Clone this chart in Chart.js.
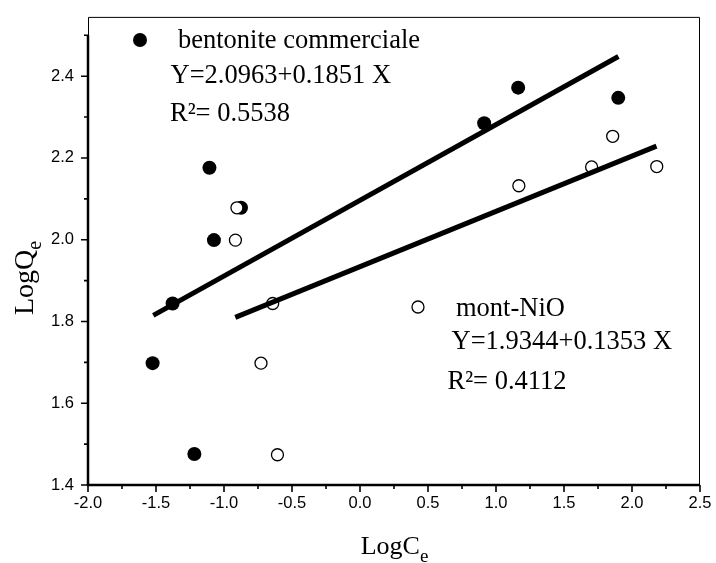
<!DOCTYPE html>
<html>
<head>
<meta charset="utf-8">
<script src="https://cdn.jsdelivr.net/npm/chart.js@4"></script>
<style>
html,body{margin:0;padding:0;background:#fff;}
canvas{display:block;}
</style>
</head>
<body>
<canvas id="c" width="716" height="563"></canvas>
<script>
// ---- data ----
const bentX = [-1.525, -1.378, -1.218, -1.107, -1.074, -0.875, 0.913, 1.163, 1.899];
const bentY = [1.698, 1.844, 1.476, 2.176, 1.999, 2.078, 2.285, 2.372, 2.347];
const nioX  = [-0.916, -0.905, -0.728, -0.642, -0.607, 1.168, 1.703, 1.858, 2.182];
const nioY  = [1.999, 2.078, 1.698, 1.844, 1.474, 2.132, 2.178, 2.253, 2.179];
const bentFitX = [-1.52, 1.90];
const bentFitY = [1.815, 2.448];
const nioFitX = [-0.917, 2.18];
const nioFitY = [1.810, 2.229];
const xTickValues = [-2.0, -1.75, -1.5, -1.25, -1.0, -0.75, -0.5, -0.25, 0.0, 0.25, 0.5, 0.75, 1.0, 1.25, 1.5, 1.75, 2.0, 2.25, 2.5];
const yTickValues = [1.4, 1.5, 1.6, 1.7, 1.8, 1.9, 2.0, 2.1, 2.2, 2.3, 2.4, 2.5];
const bentLabel = 'bentonite commerciale';
const bentEq = 'Y=2.0963+0.1851 X';
const bentR2 = 'R\u00B2= 0.5538';
const nioLabel = 'mont-NiO';
const nioEq = 'Y=1.9344+0.1353 X';
const nioR2 = 'R\u00B2= 0.4112';

const pts = (xs, ys) => xs.map((x, i) => ({x: x, y: ys[i]}));

const isMajorX = v => Math.abs(Math.round(v * 4)) % 2 === 0;
const isMajorY = v => Math.round(v * 10) % 2 === 0;

const decor = {
  id: 'decor',
  afterDraw(chart) {
    const ctx = chart.ctx;
    const a = chart.chartArea;
    const xs = chart.scales.x, ys = chart.scales.y;
    ctx.save();
    ctx.strokeStyle = '#000';
    ctx.fillStyle = '#000';
    // thin frame
    ctx.lineWidth = 1;
    ctx.beginPath();
    ctx.moveTo(a.left + 0.5, a.bottom);
    ctx.lineTo(a.left + 0.5, a.top + 0.5);
    ctx.lineTo(a.right - 0.5, a.top + 0.5);
    ctx.lineTo(a.right - 0.5, a.bottom);
    ctx.stroke();
    // thick axes
    ctx.lineWidth = 2.5;
    ctx.beginPath();
    ctx.moveTo(a.left, ys.getPixelForValue(yTickValues[yTickValues.length - 1]));
    ctx.lineTo(a.left, a.bottom);
    ctx.lineTo(a.right, a.bottom);
    ctx.stroke();
    // ticks
    ctx.lineWidth = 1.6;
    ctx.beginPath();
    yTickValues.forEach(v => {
      const p = ys.getPixelForValue(v);
      const len = isMajorY(v) ? 7 : 4;
      ctx.moveTo(a.left, p); ctx.lineTo(a.left - len, p);
    });
    xTickValues.forEach(v => {
      const p = xs.getPixelForValue(v);
      const len = isMajorX(v) ? 7 : 4;
      ctx.moveTo(p, a.bottom); ctx.lineTo(p, a.bottom + len);
    });
    ctx.stroke();
    // legend markers
    ctx.beginPath(); ctx.arc(140, 40, 7, 0, Math.PI * 2); ctx.fill();
    ctx.beginPath(); ctx.arc(418, 307, 6, 0, Math.PI * 2);
    ctx.fillStyle = '#fff'; ctx.fill(); ctx.lineWidth = 1.3; ctx.stroke();
    ctx.fillStyle = '#000';
    // annotations
    ctx.font = '26.5px "Liberation Serif"';
    ctx.textBaseline = 'alphabetic';
    ctx.textAlign = 'left';
    ctx.fillText(bentLabel, 178, 48);
    ctx.fillText(bentEq, 170.5, 83);
    ctx.fillText(bentR2, 170, 121);
    ctx.fillText(nioLabel, 456, 316);
    ctx.fillText(nioEq, 451.5, 348.5);
    ctx.fillText(nioR2, 447.5, 388.5);
    // x axis title
    ctx.font = '26px "Liberation Serif"';
    const w1 = ctx.measureText('LogC').width;
    ctx.fillText('LogC', 360.7, 554);
    ctx.font = '19px "Liberation Serif"';
    ctx.fillText('e', 360.7 + w1, 562);
    // y axis title
    ctx.translate(33, 315);
    ctx.rotate(-Math.PI / 2);
    ctx.font = '28px "Liberation Serif"';
    const w2 = ctx.measureText('LogQ').width;
    ctx.fillText('LogQ', 0, 0);
    ctx.font = '20px "Liberation Serif"';
    ctx.fillText('e', w2, 8);
    ctx.restore();
  }
};

new Chart(document.getElementById('c'), {
  type: 'scatter',
  data: {
    datasets: [
      {
        type: 'line', label: 'fit bentonite', data: pts(bentFitX, bentFitY),
        borderColor: '#000', borderWidth: 5, pointRadius: 0, fill: false, order: 0
      },
      {
        type: 'line', label: 'fit mont-NiO', data: pts(nioFitX, nioFitY),
        borderColor: '#000', borderWidth: 5, pointRadius: 0, fill: false, order: 0
      },
      {
        label: nioLabel, data: pts(nioX, nioY),
        pointRadius: 6, pointBackgroundColor: '#fff', pointBorderColor: '#000',
        pointBorderWidth: 1.3, order: 1
      },
      {
        label: bentLabel, data: pts(bentX, bentY),
        pointRadius: 7, pointBackgroundColor: '#000', pointBorderColor: '#000',
        pointBorderWidth: 0, order: 2
      }
    ]
  },
  options: {
    responsive: false,
    animation: false,
    layout: { padding: { top: 11, right: 16, left: 0, bottom: 0 } },
    plugins: { legend: { display: false }, tooltip: { enabled: false } },
    scales: {
      x: {
        type: 'linear', min: -2.0, max: 2.5,
        afterFit(s) { s.height = 78; },
        afterBuildTicks(s) { s.ticks = xTickValues.map(v => ({value: v})); },
        border: { display: false },
        grid: { display: true, drawOnChartArea: false, tickLength: 7, tickColor: 'rgba(0,0,0,0)' },
        ticks: {
          autoSkip: false, maxRotation: 0, padding: 2, color: '#000',
          font: { family: 'Liberation Sans', size: 16.5 },
          callback: v => isMajorX(v) ? v.toFixed(1) : ''
        }
      },
      y: {
        type: 'linear', min: 1.4, max: 2.545,
        afterFit(s) { s.width = 88; },
        afterBuildTicks(s) { s.ticks = yTickValues.map(v => ({value: v})); },
        border: { display: false },
        grid: { display: true, drawOnChartArea: false, tickLength: 7, tickColor: 'rgba(0,0,0,0)' },
        ticks: {
          autoSkip: false, padding: 7, color: '#000',
          font: { family: 'Liberation Sans', size: 16.5 },
          callback: v => (isMajorY(v) && v < 2.45) ? v.toFixed(1) : ''
        }
      }
    }
  },
  plugins: [decor]
});
</script>
</body>
</html>
